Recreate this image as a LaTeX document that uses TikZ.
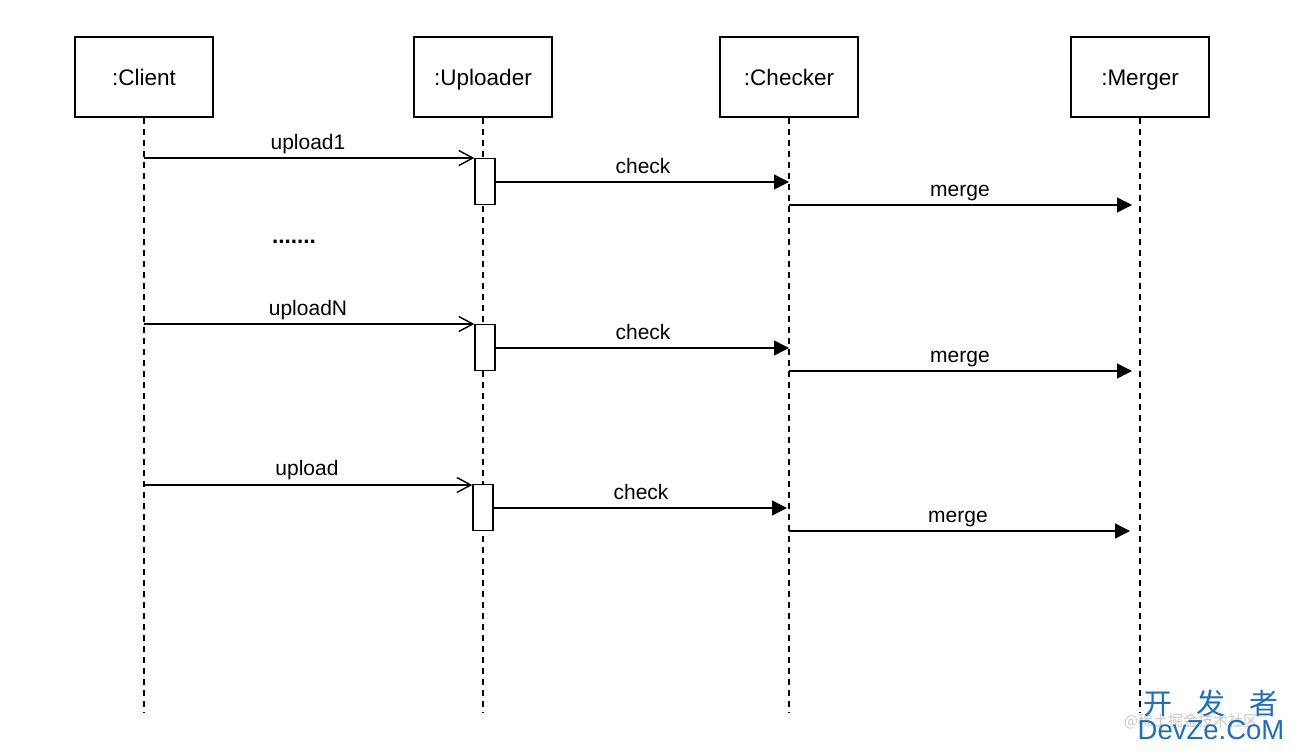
\documentclass[tikz,border=0pt]{standalone}
\usepackage{fontspec}
\setmainfont{Liberation Sans}
\newfontfamily\cjk{Noto Sans CJK SC}
\usetikzlibrary{arrows.meta}
\begin{document}
\begin{tikzpicture}[x=1pt,y=-1pt,
  every node/.style={font=\fontsize{21}{24}\selectfont},
  actor/.style={draw,line width=1.6pt,minimum width=138pt,minimum height=80pt,inner sep=0pt,text height=16pt,text depth=0pt,font=\fontsize{22.5}{26}\selectfont},
  life/.style={line width=1.4pt,dash pattern=on 6pt off 5pt},
  act/.style={draw,fill=white,line width=1.4pt,minimum width=20pt,minimum height=46pt,inner sep=0pt},
  msg/.style={line width=1.4pt,-{Stealth[length=15pt,width=15pt,inset=0pt]}},
  call/.style={line width=1.4pt,-{Straight Barb[length=14pt,width=15pt,line width=1.4pt]}},
  lbl/.style={inner sep=0pt,anchor=base},
  wmblue/.style={text={rgb,255:red,30;green,110;blue,190},inner sep=0pt}]
\useasboundingbox (0,0) rectangle (1294,752);
% actors
\node[actor] (client) at (144,77) {:Client};
\node[actor] (uploader) at (483,77) {:Uploader};
\node[actor] (checker) at (789,77) {:Checker};
\node[actor] (merger) at (1140,77) {:Merger};
\coordinate (clientEnd) at (144,712);
\coordinate (uploaderEnd) at (483,712);
\coordinate (checkerEnd) at (789,712);
\coordinate (mergerEnd) at (1140,712);
\draw[life] (client.south) -- (clientEnd);
\draw[life] (uploader.south) -- (uploaderEnd);
\draw[life] (checker.south) -- (checkerEnd);
\draw[life] (merger.south) -- (mergerEnd);
% activations
\node[act] (a1) at (485,181.5) {};
\node[act] (a2) at (485,347.5) {};
\node[act] (a3) at (483,507.5) {};
% row 1
\coordinate (c1) at (144,158);
\coordinate (k1) at (789,182);
\coordinate (k1s) at (789,205);
\coordinate (m1) at (1132,205);
\draw[call] (c1) -- (a1.north west |- c1);
\draw[msg] (a1.east |- k1) -- (k1);
\draw[msg] (k1s) -- (m1);
\node[lbl] (l1) at (308,149) {upload1};
\node[lbl] (l2) at (643,173) {check};
\node[lbl] (l3) at (960,196) {merge};
\node[font=\bfseries\fontsize{22.5}{26}\selectfont,inner sep=0pt,anchor=base] (dots) at (294,243) {.......};
% row 2
\coordinate (c2) at (144,324);
\coordinate (k2) at (789,348);
\coordinate (k2s) at (789,371);
\coordinate (m2) at (1132,371);
\draw[call] (c2) -- (a2.north west |- c2);
\draw[msg] (a2.east |- k2) -- (k2);
\draw[msg] (k2s) -- (m2);
\node[lbl] (l4) at (308,315) {uploadN};
\node[lbl] (l5) at (643,339) {check};
\node[lbl] (l6) at (960,362) {merge};
% row 3
\coordinate (c3) at (144,485);
\coordinate (k3) at (787,508);
\coordinate (k3s) at (789,531);
\coordinate (m3) at (1130,531);
\draw[call] (c3) -- (a3.north west |- c3);
\draw[msg] (a3.east |- k3) -- (k3);
\draw[msg] (k3s) -- (m3);
\node[lbl] (l7) at (307,475) {upload};
\node[lbl] (l8) at (641,499) {check};
\node[lbl] (l9) at (958,522) {merge};
% watermark
\node[font=\cjk\fontsize{15}{18}\selectfont,text=black!22,inner sep=0pt] (wm1) at (1191,721) {@稀土掘金技术社区};
\node[font=\cjk\fontsize{29}{32}\selectfont,wmblue] (wm2) at (1211,703) {开\hspace{24pt}发\hspace{24pt}者};
\node[font=\fontsize{27.5}{30}\selectfont,wmblue] (wm3) at (1211,730) {DevZe.CoM};
\end{tikzpicture}
\end{document}
